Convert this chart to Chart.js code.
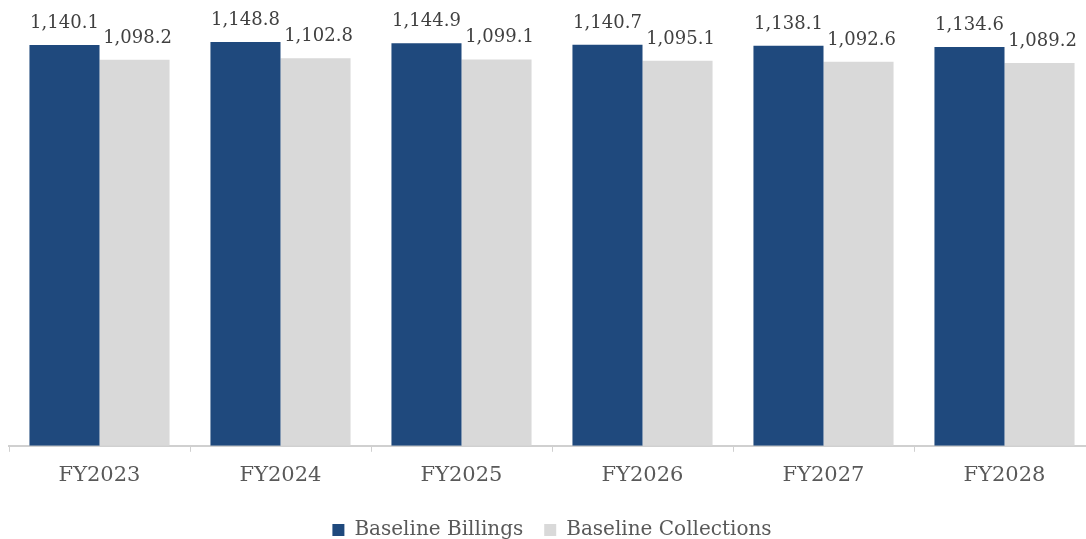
<!DOCTYPE html>
<html>
<head>
<meta charset="utf-8">
<script src="https://cdn.jsdelivr.net/npm/chart.js@4/dist/chart.umd.min.js"></script>
<style>
  html, body { margin: 0; padding: 0; background: #ffffff; overflow: hidden; }
  #wrap { position: relative; width: 1110px; height: 539px; }
</style>
</head>
<body>
<div id="wrap"><canvas id="chart"></canvas></div>
<script>
// Fiscal years and baseline series (millions)
const categories = ['FY2023', 'FY2024', 'FY2025', 'FY2026', 'FY2027', 'FY2028'];
const billings = [1140.1, 1148.8, 1144.9, 1140.7, 1138.1, 1134.6];
const collections = [1098.2, 1102.8, 1099.1, 1095.1, 1092.6, 1089.2];
const seriesNames = ['Baseline Billings', 'Baseline Collections'];

const FONT = "'DejaVu Serif', serif";
Chart.defaults.font.family = FONT;
const fmt = new Intl.NumberFormat('en-US', { minimumFractionDigits: 1, maximumFractionDigits: 1 });

// Value labels above each bar
const barValueLabels = {
  id: 'barValueLabels',
  afterDatasetsDraw(chart) {
    const ctx = chart.ctx;
    ctx.save();
    ctx.font = "18px " + FONT;
    ctx.fillStyle = '#404040';
    ctx.textAlign = 'center';
    ctx.textBaseline = 'alphabetic';
    chart.data.datasets.forEach((ds, di) => {
      const meta = chart.getDatasetMeta(di);
      meta.data.forEach((bar, i) => {
        ctx.fillText(fmt.format(ds.data[i]), bar.x + (di === 1 ? 3 : 0), bar.y - 17);
      });
    });
    ctx.restore();
  }
};

new Chart(document.getElementById('chart'), {
  type: 'bar',
  data: {
    labels: categories,
    datasets: [
      { label: seriesNames[0], data: billings, backgroundColor: '#1F497D' },
      { label: seriesNames[1], data: collections, backgroundColor: '#D9D9D9' }
    ]
  },
  options: {
    responsive: true,
    maintainAspectRatio: false,
    animation: false,
    layout: { padding: { left: 9, right: 15, top: 24, bottom: -11 } },
    datasets: { bar: { categoryPercentage: 0.774, barPercentage: 1.0 } },
    scales: {
      x: {
        grid: {
          offset: true,
          drawOnChartArea: false,
          drawTicks: true,
          tickLength: 6,
          color: '#D0D0D0',
          lineWidth: 1
        },
        border: { display: true, color: '#D0D0D0', width: 2 },
        ticks: { color: '#595959', font: { family: FONT, size: 21 }, padding: 11 }
      },
      y: {
        display: false,
        min: 0,
        max: 1200
      }
    },
    plugins: {
      legend: {
        position: 'bottom',
        labels: {
          color: '#595959',
          font: { family: FONT, size: 20 },
          boxWidth: 12,
          boxHeight: 12,
          padding: 21
        }
      },
      tooltip: { enabled: false }
    }
  },
  plugins: [barValueLabels]
});
</script>
</body>
</html>
